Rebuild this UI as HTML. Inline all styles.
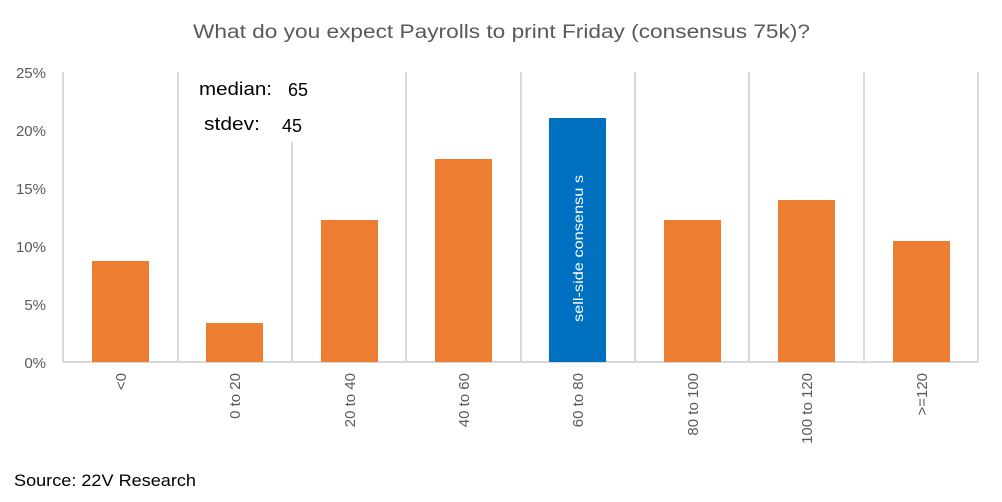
<!DOCTYPE html>
<html><head><style>
body{margin:0;background:#fff;}
svg text{font-family:"Liberation Sans",sans-serif;}
</style></head><body>
<svg width="1002" height="497" xmlns="http://www.w3.org/2000/svg">
<rect width="1002" height="497" fill="#fff"/>
<text x="193" y="38" font-size="19" fill="#595959" textLength="617" lengthAdjust="spacingAndGlyphs">What do you expect Payrolls to print Friday (consensus 75k)?</text>
<g stroke="#d9d9d9" stroke-width="2">
<line x1="63" y1="72" x2="63" y2="362"/>
<line x1="178" y1="72" x2="178" y2="362"/>
<line x1="292" y1="142" x2="292" y2="362"/>
<line x1="406" y1="72" x2="406" y2="362"/>
<line x1="521" y1="72" x2="521" y2="362"/>
<line x1="635" y1="72" x2="635" y2="362"/>
<line x1="749" y1="72" x2="749" y2="362"/>
<line x1="864" y1="72" x2="864" y2="362"/>
<line x1="978" y1="72" x2="978" y2="362"/>
<line x1="63" y1="362" x2="978" y2="362"/>
</g>
<g font-size="15" fill="#595959" text-anchor="end">
<text x="46" y="78">25%</text>
<text x="46" y="136">20%</text>
<text x="46" y="194">15%</text>
<text x="46" y="252">10%</text>
<text x="46" y="310">5%</text>
<text x="46" y="368">0%</text>
</g>
<g fill="#ed7d31">
<rect x="92" y="261" width="57" height="101"/>
<rect x="206" y="323" width="57" height="39"/>
<rect x="321" y="220" width="57" height="142"/>
<rect x="435" y="159" width="57" height="203"/>
<rect x="664" y="220" width="57" height="142"/>
<rect x="778" y="200" width="57" height="162"/>
<rect x="893" y="241" width="57" height="121"/>
</g>
<rect x="549" y="118" width="57" height="244" fill="#0070c0"/>
<text transform="translate(583,322) rotate(-90)" font-size="14" fill="#fff" textLength="147" lengthAdjust="spacingAndGlyphs">sell-side consensu s</text>
<g font-size="15" fill="#595959" text-anchor="end">
<text transform="translate(126,373) rotate(-90)">&lt;0</text>
<text transform="translate(240,373) rotate(-90)">0 to 20</text>
<text transform="translate(355,373) rotate(-90)">20 to 40</text>
<text transform="translate(469,373) rotate(-90)">40 to 60</text>
<text transform="translate(583,373) rotate(-90)">60 to 80</text>
<text transform="translate(698,373) rotate(-90)">80 to 100</text>
<text transform="translate(812,373) rotate(-90)">100 to 120</text>
<text transform="translate(927,373) rotate(-90)">&gt;=120</text>
</g>
<text x="199" y="95" font-size="18" fill="#000" textLength="73" lengthAdjust="spacingAndGlyphs">median:</text>
<text x="288" y="96" font-size="18" fill="#000">65</text>
<text x="204" y="130" font-size="18" fill="#000" textLength="56" lengthAdjust="spacingAndGlyphs">stdev:</text>
<text x="282" y="132" font-size="18" fill="#000">45</text>
<text x="14" y="486" font-size="17" fill="#000" textLength="182" lengthAdjust="spacingAndGlyphs">Source: 22V Research</text>
</svg>
</body></html>
